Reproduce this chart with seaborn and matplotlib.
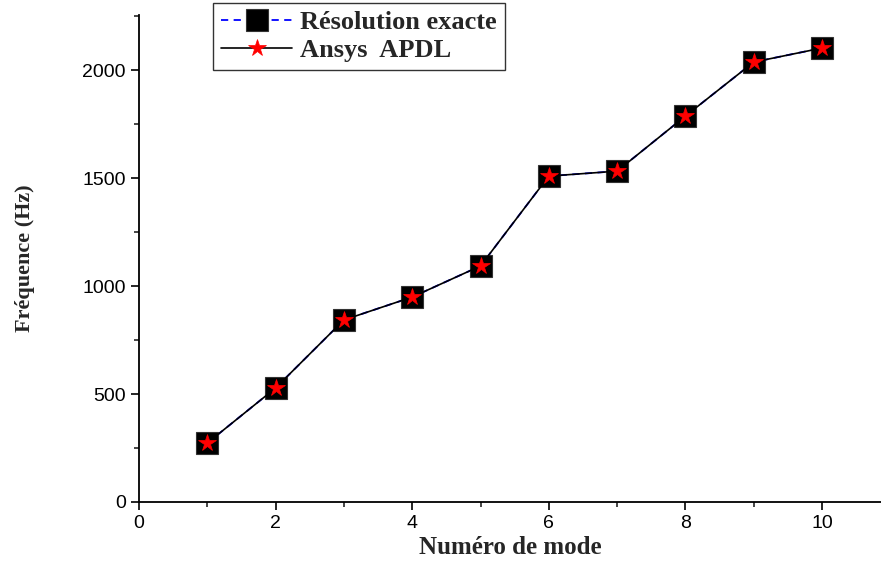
import numpy as np
import pandas as pd
import matplotlib
matplotlib.use("Agg")
import matplotlib.pyplot as plt
import seaborn as sns
from matplotlib.ticker import MultipleLocator

# mode numbers and frequencies (Hz)
modes = [1, 2, 3, 4, 5, 6, 7, 8, 9, 10]
freq_exact = [273, 528, 843, 949, 1093, 1509, 1532, 1787, 2037, 2102]
freq_apdl = [273, 528, 843, 949, 1093, 1509, 1532, 1787, 2037, 2102]

df = pd.DataFrame({'mode': modes, 'exact': freq_exact, 'apdl': freq_apdl})

sns.set_style("ticks")
plt.rcParams['font.family'] = ['Liberation Sans', 'DejaVu Sans']

fig = plt.figure(figsize=(8.81, 5.66), dpi=100)
ax = fig.add_axes([139 / 881, 64 / 566, 1 - 139 / 881, (502 - 15) / 566])

sns.lineplot(data=df, x='mode', y='exact', ax=ax, color='blue',
             linestyle=(0, (4, 3)), linewidth=1.3, marker='s', markersize=16,
             markerfacecolor='black', markeredgecolor='#333333',
             markeredgewidth=0.8, label='Résolution exacte')
sns.lineplot(data=df, x='mode', y='apdl', ax=ax, color='black', linestyle='-',
             linewidth=1.2, marker='*', markersize=13, markerfacecolor='red',
             markeredgecolor='red', markeredgewidth=0.5,
             label='Ansys  APDL')

ax.set_xlim(0, (881 - 139) / 68.3)
ax.set_ylim(0, 2255)
ax.xaxis.set_major_locator(MultipleLocator(2))
ax.xaxis.set_minor_locator(MultipleLocator(1))
ax.yaxis.set_major_locator(MultipleLocator(500))
ax.yaxis.set_minor_locator(MultipleLocator(250))
ax.tick_params(which='major', direction='out', length=6, width=1.2,
               labelsize=14, colors='black')
ax.tick_params(which='minor', direction='out', length=3.5, width=1.2)

sns.despine(ax=ax)
for s in ['left', 'bottom']:
    ax.spines[s].set_linewidth(1.3)
    ax.spines[s].set_color('black')

serif = ['Liberation Serif', 'DejaVu Serif']
ax.set_xlabel('Numéro de mode', family=serif, weight='bold', size=18, labelpad=3)
ax.set_ylabel('Fréquence (Hz)', family=serif, weight='bold', size=16, labelpad=34)

leg = ax.legend(loc='upper left', bbox_to_anchor=(213 / 881, 1 - 3 / 566),
                bbox_transform=fig.transFigure, frameon=True, fancybox=False,
                prop=dict(family=serif, weight='bold', size=19),
                handlelength=2.7, handletextpad=0.3, borderpad=0.3,
                labelspacing=0.15, borderaxespad=0)
leg.get_frame().set_edgecolor('black')
leg.get_frame().set_linewidth(1.0)

fig.savefig('out.png', dpi=100)
